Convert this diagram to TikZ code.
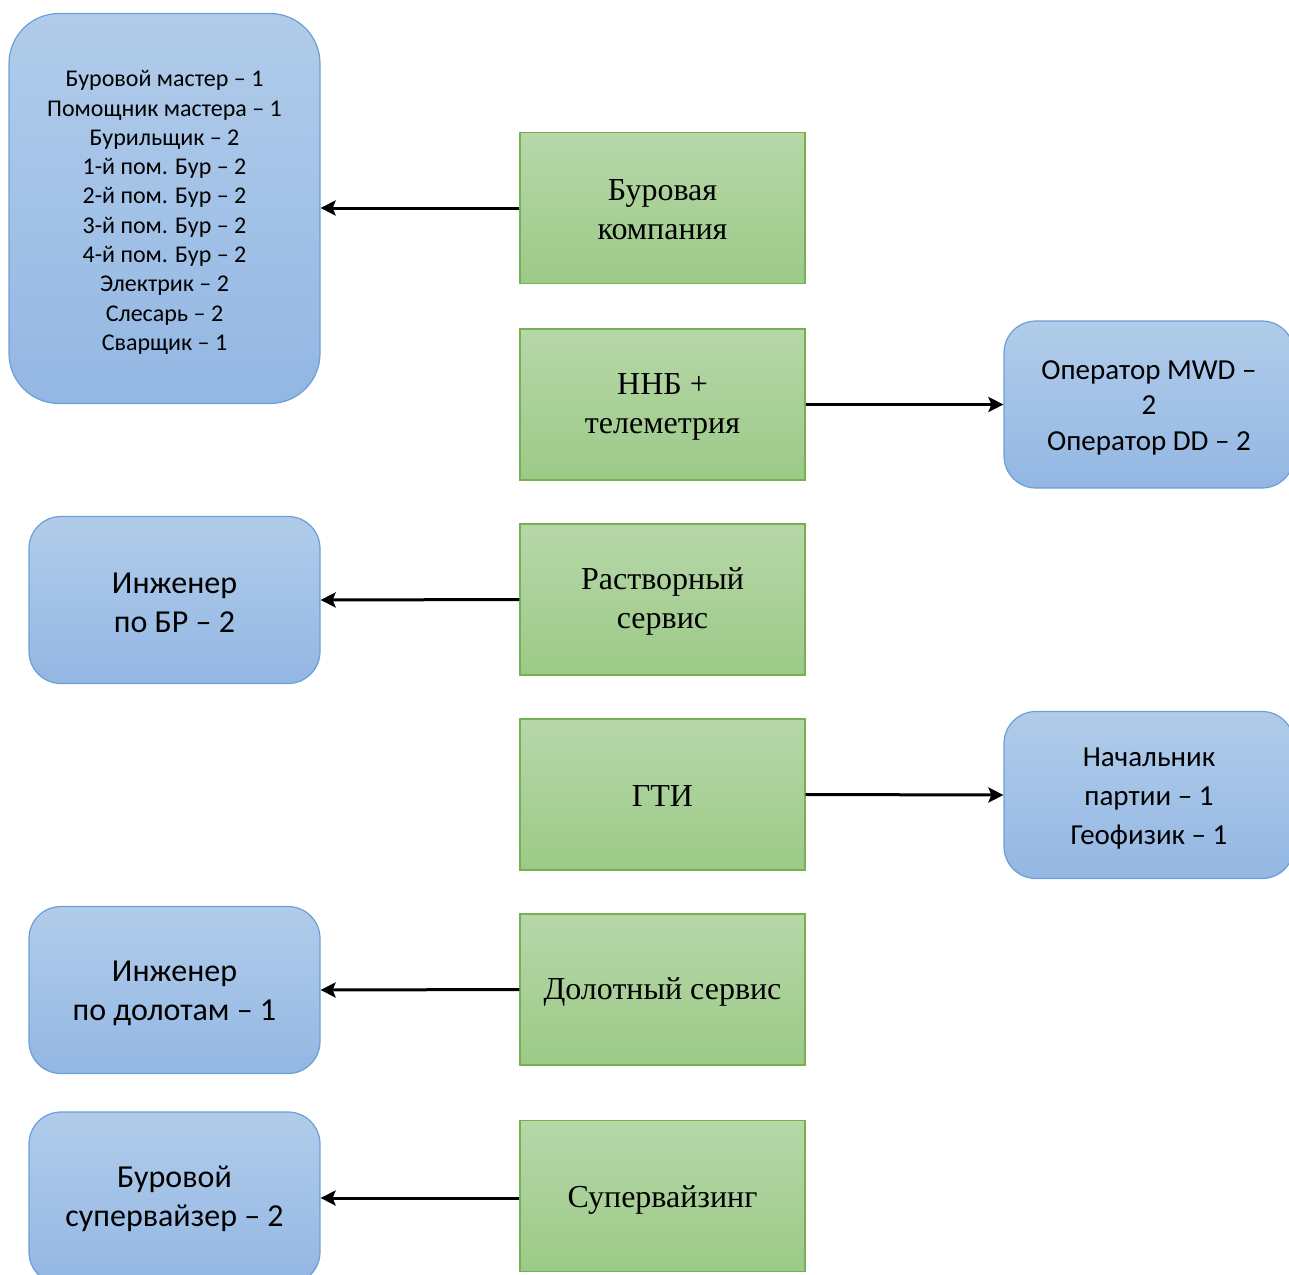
\documentclass[tikz,border=0pt]{standalone}
\usepackage{fontspec}
\setmainfont{Liberation Serif}
\newfontfamily\staff{Carlito}
\usetikzlibrary{arrows.meta}
\definecolor{bluetop}{HTML}{B1CCEA}
\definecolor{bluebot}{HTML}{93B7E3}
\definecolor{blueline}{HTML}{6A9FD8}
\definecolor{greentop}{HTML}{B7D7A9}
\definecolor{greenbot}{HTML}{9CCA87}
\definecolor{greenline}{HTML}{77B052}
\tikzset{
  staffbox/.style={draw=blueline, line width=1.2pt, top color=bluetop, bottom color=bluebot,
    rounded corners=32pt, minimum width=291pt, minimum height=167pt, inner sep=0pt},
  stafftext/.style={align=center, inner sep=0pt, yshift=-3pt,
    font=\staff\fontsize{32}{39}\selectfont},
  unitbox/.style={draw=greenline, line width=1.2pt, top color=greentop, bottom color=greenbot,
    minimum width=285pt, minimum height=151pt, inner sep=0pt},
  unittext/.style={align=center, inner sep=0pt, yshift=-2pt,
    font=\fontsize{32}{39}\selectfont},
  link/.style={line width=3pt, -{Stealth[length=15pt,width=15pt,inset=3pt]}}
}
\begin{document}
\begin{tikzpicture}[x=1pt,y=-1pt]
\useasboundingbox (0,0) rectangle (1289,1274);
\clip (0,0) rectangle (1289,1274);
% service companies
\node[unitbox] (drill) at (662.5,208) {};
\node[unitbox] (dd)    at (662.5,404.5) {};
\node[unitbox] (mud)   at (662.5,599.5) {};
\node[unitbox] (gti)   at (662.5,794.5) {};
\node[unitbox] (bits)  at (662.5,989.5) {};
\node[unitbox] (sup)   at (662.5,1196) {};
\node[unittext] (drill-t) at (drill) {Буровая\\компания};
\node[unittext] (dd-t)    at (dd)    {ННБ +\\телеметрия};
\node[unittext] (mud-t)   at (mud)   {Растворный\\сервис};
\node[unittext] (gti-t)   at (gti)   {ГТИ};
\node[unittext] (bits-t)  at (bits)  {Долотный сервис};
\node[unittext, yshift=-2pt] (sup-t) at (sup) {Супервайзинг};
% crews
\node[staffbox, rounded corners=50pt, minimum width=311pt, minimum height=390pt] (crew) at (164.5,208.5) {};
\node[staffbox, minimum width=290pt] (mwd) at (1149,404.5) {};
\node[staffbox] (eng) at (174.5,600) {};
\node[staffbox, minimum width=290pt] (geo) at (1149,795) {};
\node[staffbox] (bit) at (174.5,990) {};
\node[staffbox, minimum height=172pt] (sv) at (174.5,1198) {};
\node[stafftext, yshift=-1pt, font=\staff\fontsize{24}{29.3}\selectfont] (crew-t) at (crew)
  {Буровой мастер – 1\\Помощник мастера – 1\\Бурильщик – 2\\1-й пом. Бур – 2\\2-й пом. Бур – 2\\3-й пом. Бур – 2\\4-й пом. Бур – 2\\Электрик – 2\\Слесарь – 2\\Сварщик – 1};
\node[stafftext, font=\staff\fontsize{29}{35.5}\selectfont] (mwd-t) at (mwd)
  {Оператор MWD –\\2\\Оператор DD – 2};
\node[stafftext] (eng-t) at (eng) {Инженер\\по БР – 2};
\node[stafftext, yshift=-1pt, font=\staff\fontsize{29}{39}\selectfont] (geo-t) at (geo)
  {Начальник\\партии – 1\\Геофизик – 1};
\node[stafftext] (bit-t) at (bit) {Инженер\\по долотам – 1};
\node[stafftext, yshift=2pt] (sv-t) at (sv) {Буровой\\супервайзер – 2};
% links
\draw[link] (drill.west) -- (crew.east |- drill.west);
\draw[link] (dd.east) -- (mwd.west);
\draw[link] (mud.west) -- (eng.east);
\draw[link] (gti.east) -- (geo.west);
\draw[link] (bits.west) -- (bit.east);
\draw[link] (sup.west |- sv.east) -- (sv.east);
\end{tikzpicture}
\end{document}
